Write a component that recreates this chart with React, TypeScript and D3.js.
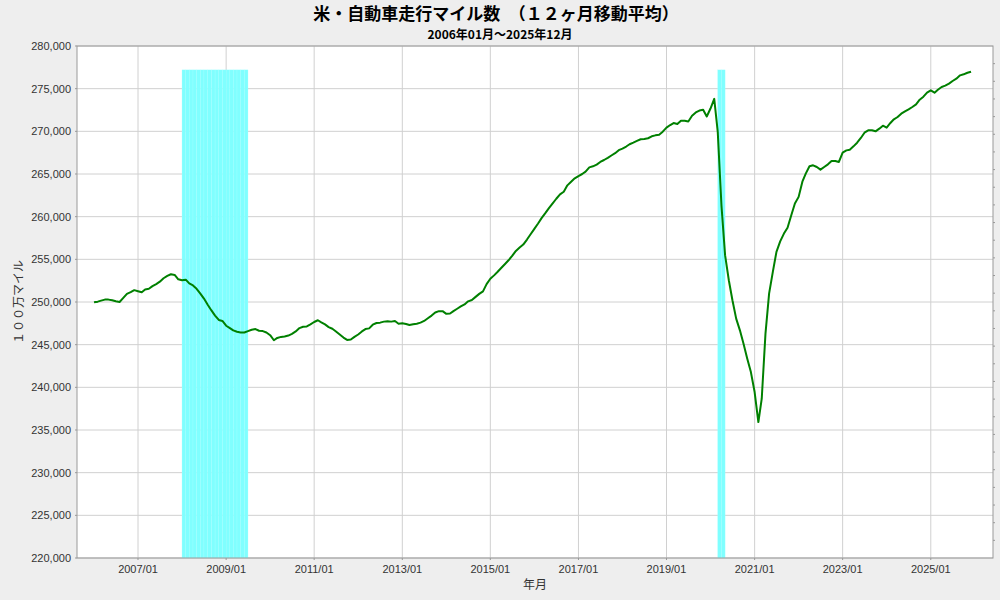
import React from "react";
import * as d3 from "d3";

// ---- Data ----
const startYear = 2006;
const startMonth = 0; // January
// 12-month moving average of US vehicle miles traveled (millions of miles)
const vmt: number[] = [
  249960, 250040, 250160, 250280, 250280, 250200, 250080, 250000, 250480, 250950, 251150, 251390,
  251270, 251150, 251470, 251550, 251860, 252100, 252380, 252780, 253060, 253250, 253170, 252660,
  252540, 252620, 252180, 251940, 251550, 250990, 250400, 249680, 249010, 248410, 247900, 247780,
  247220, 246940, 246670, 246510, 246430, 246430, 246590, 246750, 246830, 246630, 246590, 246430,
  246110, 245520, 245790, 245910, 245950, 246070, 246270, 246550, 246940, 247100, 247140, 247380,
  247660, 247860, 247620, 247380, 247060, 246870, 246550, 246190, 245830, 245560, 245600, 245910,
  246190, 246550, 246830, 246910, 247340, 247540, 247580, 247700, 247740, 247700, 247780, 247460,
  247500, 247420, 247300, 247380, 247460, 247580, 247780, 248100, 248410, 248770, 248930, 248930,
  248610, 248650, 248930, 249210, 249480, 249720, 250080, 250240, 250600, 250950, 251250, 252100,
  252730, 253120, 253510, 253980, 254420, 254890, 255400, 255980, 256380, 256730, 257320, 257940,
  258570, 259200, 259830, 260410, 261000, 261550, 262100, 262610, 262920, 263670, 264100, 264490,
  264760, 265000, 265270, 265780, 265900, 266100, 266410, 266640, 266890, 267170, 267440, 267790,
  267980, 268220, 268490, 268680, 268880, 269070, 269110, 269190, 269420, 269530, 269610, 269960,
  270430, 270740, 270970, 270850, 271240, 271240, 271160, 271820, 272210, 272440, 272520, 271740,
  272670, 273800, 269960, 261300, 255490, 252550, 250200, 248050, 246680, 245120, 243360, 241790,
  239450, 235930, 238670, 246290, 250990, 253530, 255880, 257100, 258020, 258700, 260170, 261540,
  262320, 264100, 265040, 265900, 266020, 265820, 265510, 265820, 266130, 266520, 266520, 266410,
  267500, 267770, 267850, 268240, 268670, 269220, 269840, 270120, 270120, 270000, 270310, 270660,
  270430, 270980, 271410, 271680, 272070, 272340, 272580, 272850, 273160, 273710, 274060, 274530,
  274800, 274530, 274880, 275200, 275350, 275590, 275900, 276170, 276560, 276680, 276870, 276990,
];

// Recession months (month after NBER peak through trough)
const recessionPeriods: [string, string][] = [
  ["2008-01", "2009-06"],
  ["2020-03", "2020-04"],
];
const recessionTop = 277200;

const yTicks = [220000, 225000, 230000, 235000, 240000, 245000, 250000, 255000, 260000, 265000, 270000, 275000, 280000];
const xTickYears = [2007, 2009, 2011, 2013, 2015, 2017, 2019, 2021, 2023, 2025];

const titleText = "米・自動車走行マイル数　（１２ヶ月移動平均）";
const subtitleText = "2006年01月～2025年12月";
const yAxisLabel = "１００万マイル";
const xAxisLabel = "年月";

// ---- Layout ----
const W = 1000;
const H = 600;
const plot = { left: 77, right: 993, top: 46, bottom: 558 };

const latin = "'Liberation Sans', Arial, 'Noto Sans CJK JP', sans-serif";
const cjk = "'Noto Sans CJK JP', 'Liberation Sans', sans-serif";

function parseMonth(s: string): Date {
  const [y, m] = s.split("-").map(Number);
  return new Date(y, m - 1, 1);
}

export default function App() {
  const dates = vmt.map((_, i) => new Date(startYear, startMonth + i, 1));

  const x = d3
    .scaleTime()
    .domain([new Date(2005, 7, 13), new Date(2026, 5, 1)])
    .range([plot.left, plot.right]);
  const y = d3.scaleLinear().domain([220000, 280000]).range([plot.bottom, plot.top]);
  const yMinor = d3.scaleLinear().domain([0, 29]).range([plot.bottom, plot.top]);

  const line = d3
    .line<number>()
    .x((_, i) => x(dates[i]))
    .y((d) => y(d));

  const recMonths: Date[] = [];
  recessionPeriods.forEach(([s, e]) => {
    const sd = parseMonth(s);
    const ed = parseMonth(e);
    for (let d = sd; d <= ed; d = new Date(d.getFullYear(), d.getMonth() + 1, 1)) {
      recMonths.push(d);
    }
  });

  const fmt = d3.format(",");

  return (
    <svg
      width={W}
      height={H}
      style={{ position: "absolute", left: 0, top: 0, display: "block" }}
    >
      <rect x={0} y={0} width={W} height={H} fill="#eeeeee" />
      <rect
        x={plot.left}
        y={plot.top}
        width={plot.right - plot.left}
        height={plot.bottom - plot.top}
        fill="#ffffff"
      />

      {/* grid */}
      {yTicks.map((t) => (
        <line
          key={"gy" + t}
          x1={plot.left}
          x2={plot.right}
          y1={y(t)}
          y2={y(t)}
          stroke="#d0d0d0"
          strokeWidth={1}
        />
      ))}
      {xTickYears.map((yr) => (
        <line
          key={"gx" + yr}
          x1={x(new Date(yr, 0, 1))}
          x2={x(new Date(yr, 0, 1))}
          y1={plot.top}
          y2={plot.bottom}
          stroke="#d0d0d0"
          strokeWidth={1}
        />
      ))}

      {/* recession bars */}
      {recMonths.map((d, i) => {
        const x0 = x(d);
        const x1 = x(new Date(d.getFullYear(), d.getMonth() + 1, 1));
        return (
          <rect
            key={"r" + i}
            x={x0}
            y={y(recessionTop)}
            width={x1 - x0}
            height={plot.bottom - y(recessionTop)}
            fill="#80ffff"
            stroke="#a6ffff"
            strokeWidth={0.3}
          />
        );
      })}

      {/* data line */}
      <path d={line(vmt) ?? ""} fill="none" stroke="#008000" strokeWidth={2} strokeLinejoin="round" />

      {/* plot outline */}
      <rect
        x={plot.left}
        y={plot.top}
        width={plot.right - plot.left}
        height={plot.bottom - plot.top}
        fill="none"
        stroke="#999999"
        strokeWidth={1}
      />

      {/* left axis ticks & labels */}
      {yTicks.map((t) => (
        <g key={"ty" + t}>
          <line x1={plot.left - 2} x2={plot.left} y1={y(t)} y2={y(t)} stroke="#999999" />
          <text
            x={plot.left - 6}
            y={y(t)}
            dy="0.35em"
            textAnchor="end"
            fontFamily={latin}
            fontSize={11}
            fill="#333333"
          >
            {fmt(t)}
          </text>
        </g>
      ))}

      {/* right axis minor ticks */}
      {d3.range(1, 29).map((k) => (
        <line
          key={"rm" + k}
          x1={plot.right}
          x2={plot.right + 2}
          y1={yMinor(k)}
          y2={yMinor(k)}
          stroke="#999999"
        />
      ))}

      {/* bottom axis ticks & labels */}
      {xTickYears.map((yr) => {
        const xx = x(new Date(yr, 0, 1));
        return (
          <g key={"tx" + yr}>
            <line x1={xx} x2={xx} y1={plot.bottom} y2={plot.bottom + 2} stroke="#999999" />
            <text
              x={xx}
              y={plot.bottom + 15}
              textAnchor="middle"
              fontFamily={latin}
              fontSize={11}
              fill="#333333"
            >
              {`${yr}/01`}
            </text>
          </g>
        );
      })}

      {/* axis titles */}
      <text
        x={(plot.left + plot.right) / 2}
        y={589}
        textAnchor="middle"
        fontFamily={cjk}
        fontSize={12}
        fill="#333333"
      >
        {xAxisLabel}
      </text>
      <text
        transform={`translate(23,${(plot.top + plot.bottom) / 2}) rotate(-90)`}
        textAnchor="middle"
        fontFamily={cjk}
        fontSize={12}
        fill="#333333"
      >
        {yAxisLabel}
      </text>

      {/* titles */}
      <text
        x={W / 2 - 4}
        y={20}
        textAnchor="middle"
        fontFamily={cjk}
        fontWeight="bold"
        fontSize={17}
        fill="#000000"
      >
        {titleText}
      </text>
      <text
        x={W / 2}
        y={39}
        textAnchor="middle"
        fontFamily={cjk}
        fontWeight="bold"
        fontSize={12}
        fill="#000000"
      >
        {subtitleText}
      </text>
    </svg>
  );
}
